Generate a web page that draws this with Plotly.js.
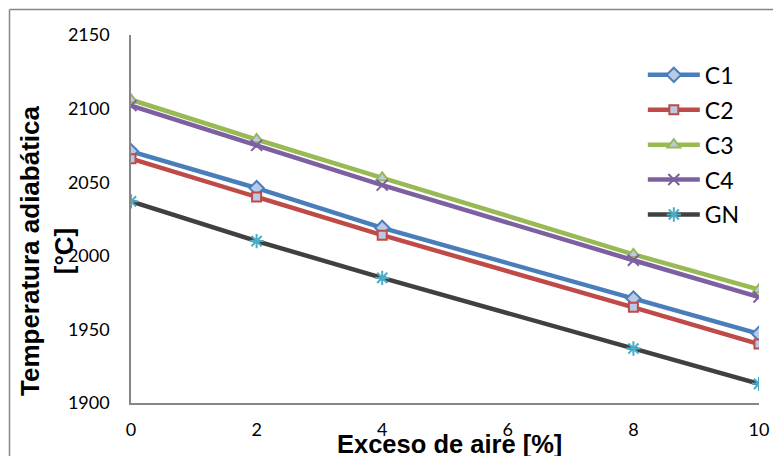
<!DOCTYPE html>
<html><head><meta charset="utf-8">
<script src="https://cdn.plot.ly/plotly-3.0.1.min.js"></script>
<style>html,body{margin:0;padding:0;background:#fff}#chart{width:773px;height:456px}</style>
</head><body><div id="chart"></div>
<script>
const exceso = [0, 2, 4, 8, 10];
const seriesNames = ["C1", "C2", "C3", "C4", "GN"];
const c1 = [2071, 2046, 2019, 1971, 1947];
const c2 = [2066, 2040, 2014, 1965, 1940];
const c3 = [2106, 2079, 2053, 2001, 1977];
const c4 = [2102, 2075, 2048, 1997, 1972];
const gn = [2037, 2010, 1985, 1937, 1913];
const xTicks = [0, 2, 4, 6, 8, 10];
const yTicks = [1900, 1950, 2000, 2050, 2100, 2150];

const styles = [
  {line:'#4a7ebb', sym:'diamond', fill:'#b9c9e6', edge:'#4a7ebb', size:11},
  {line:'#be4b48', sym:'square', fill:'#b9c9e6', edge:'#be4b48', size:9},
  {line:'#98b954', sym:'triangle-up', fill:'#b9c9e6', edge:'#98b954', size:11},
  {line:'#7d60a0', sym:'x-thin-open', fill:'#7d60a0', edge:'#7d60a0', size:11},
  {line:'#404040', sym:'asterisk-open', fill:'#4bacc6', edge:'#4bacc6', size:12}
];
const vals = [c1, c2, c3, c4, gn];
const traces = vals.map((v, i) => ({
  x: exceso, y: v, name: seriesNames[i], type: 'scatter', mode: 'lines+markers',
  legendgroup: 'g' + i,
  line: {color: styles[i].line, width: 4.5},
  marker: {symbol: styles[i].sym, size: styles[i].size, color: styles[i].fill,
           line: {color: styles[i].edge, width: 2}}
}));

const layout = {
  width: 773, height: 456,
  margin: {l: 131, r: 14, t: 35, b: 53},
  paper_bgcolor: '#fff', plot_bgcolor: '#fff',
  showlegend: true,
  legend: {x: 0.815, y: 0.95, xanchor: 'left', yanchor: 'top',
           font: {family: 'Lato', size: 23, color: '#000'},
           itemwidth: 52, traceorder: 'grouped', tracegroupgap: 2,
           bgcolor: 'rgba(0,0,0,0)'},
  xaxis: {range: [0, 10], tickvals: xTicks, ticks: '', showgrid: false, zeroline: false,
          showline: true, linecolor: '#868686', linewidth: 1.5,
          tickfont: {family: 'Lato', size: 18, color: '#000'}, ticklabelstandoff: 10},
  yaxis: {range: [1900, 2150], tickvals: yTicks, ticks: '', showgrid: false, zeroline: false,
          showline: true, linecolor: '#868686', linewidth: 1.5,
          tickfont: {family: 'Lato', size: 18, color: '#000'}, ticklabelstandoff: 16},
  annotations: [
    {text: '<b>Exceso de aire [%]</b>', xref: 'paper', yref: 'paper',
     x: (449 - 131) / 628, y: (403 - 444) / 368, xanchor: 'center', yanchor: 'middle',
     showarrow: false, font: {family: 'Liberation Sans', size: 25.5, color: '#000'}},
    {text: '<b>Temperatura adiabática<br>[°C]</b>', xref: 'paper', yref: 'paper',
     x: (47 - 131) / 628, y: (403 - 251) / 368, xanchor: 'center', yanchor: 'middle',
     textangle: -90, showarrow: false,
     font: {family: 'Liberation Sans', size: 26, color: '#000'}}
  ],
  shapes: [
    {type: 'line', xref: 'paper', yref: 'paper', x0: (9.5 - 131) / 628, x1: 1.1,
     y0: (403 - 9.5) / 368, y1: (403 - 9.5) / 368, line: {color: '#868686', width: 1.5}},
    {type: 'line', xref: 'paper', yref: 'paper', x0: (9.5 - 131) / 628, x1: (9.5 - 131) / 628,
     y0: (403 - 9.5) / 368, y1: -0.3, line: {color: '#868686', width: 1.5}}
  ]
};
Plotly.newPlot('chart', traces, layout, {displayModeBar: false});
</script></body></html>
